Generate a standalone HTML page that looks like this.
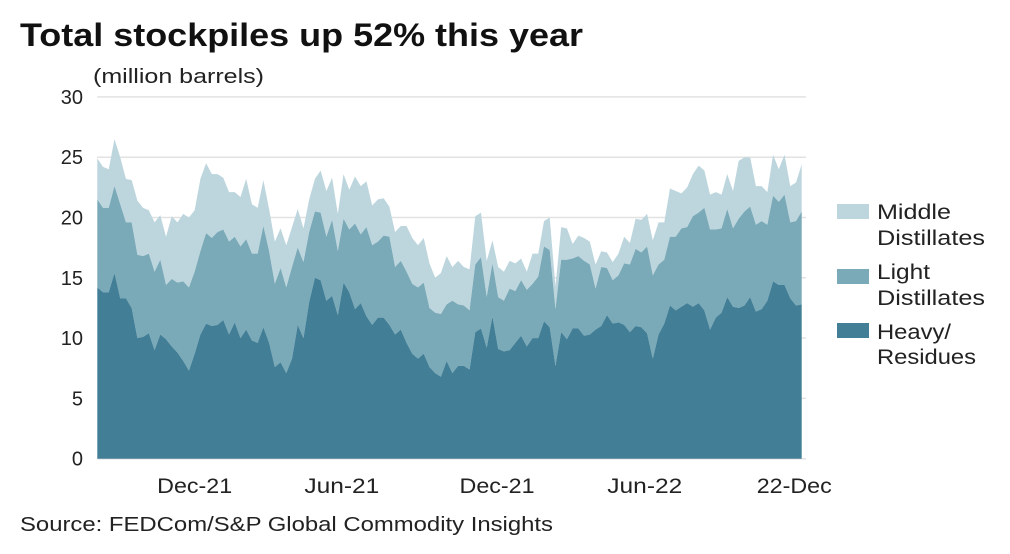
<!DOCTYPE html>
<html><head><meta charset="utf-8"><style>
body{margin:0;background:#fff;width:1010px;height:554px;overflow:hidden;font-family:"Liberation Sans",sans-serif;}
svg{display:block}
</style></head><body>
<svg id="chart" width="1010" height="554" xmlns="http://www.w3.org/2000/svg">
<text x="20" y="46" font-size="32" font-weight="bold" fill="#111" textLength="563" lengthAdjust="spacingAndGlyphs">Total stockpiles up 52% this year</text>
<text x="93" y="83" font-size="20" fill="#222" textLength="171" lengthAdjust="spacingAndGlyphs">(million barrels)</text>
<g id="grid"></g><g id="areas"></g><g id="axes"></g>
<g font-size="21" fill="#222">
<rect x="837" y="204" width="32" height="15" fill="#bdd6de"/>
<text x="877" y="219" textLength="74" lengthAdjust="spacingAndGlyphs">Middle</text><text x="877" y="245" textLength="108" lengthAdjust="spacingAndGlyphs">Distillates</text>
<rect x="837" y="269" width="32" height="15" fill="#7aa9b8"/>
<text x="877" y="279" textLength="53" lengthAdjust="spacingAndGlyphs">Light</text><text x="877" y="305" textLength="108" lengthAdjust="spacingAndGlyphs">Distillates</text>
<rect x="837" y="323" width="32" height="15" fill="#427f97"/>
<text x="877" y="339" textLength="74" lengthAdjust="spacingAndGlyphs">Heavy/</text><text x="877" y="364" textLength="99" lengthAdjust="spacingAndGlyphs">Residues</text>
</g>
<text x="20" y="531" font-size="20" fill="#222" textLength="533" lengthAdjust="spacingAndGlyphs">Source: FEDCom/S&amp;P Global Commodity Insights</text>
</svg>
<script>
const heavy=[14.2,13.8,13.8,15.4,13.3,13.3,12.5,10.0,10.1,10.4,9.0,10.3,9.9,9.3,8.8,8.1,7.3,8.7,10.3,11.2,11.0,11.1,11.5,10.3,11.3,10.0,10.7,9.8,9.6,10.9,9.6,7.6,8.0,7.1,8.3,11.1,10.0,13.0,15.0,14.8,13.1,13.5,11.9,14.6,13.8,12.4,12.9,11.8,11.1,11.7,11.7,11.1,10.3,10.7,9.6,8.7,8.3,8.7,7.6,7.1,6.8,
8.1,7.1,7.7,7.7,7.4,10.5,10.8,9.2,11.8,9.1,8.9,9.0,9.6,10.2,9.3,10.0,10.0,11.4,10.9,7.7,10.5,9.9,10.8,10.8,10.2,10.3,10.7,11.0,11.9,11.2,11.3,11.1,10.5,11.0,10.9,10.4,8.3,10.3,11.2,12.7,12.3,12.6,12.9,12.6,12.9,12.3,10.7,11.7,12.1,13.4,12.6,12.5,12.7,13.4,12.2,12.4,13.1,14.7,14.4,14.4,13.3,12.7,12.8];
const light=[7.3,7.0,7.0,7.2,7.8,6.3,7.1,6.9,6.7,6.6,6.5,6.2,4.5,5.6,5.8,6.6,6.9,6.8,6.9,7.5,7.3,7.7,7.5,7.7,7.1,7.6,7.5,7.2,7.4,8.4,7.6,6.9,7.8,7.1,7.6,6.4,6.3,5.8,5.5,5.6,5.3,6.3,5.3,5.3,5.2,7.1,5.7,7.4,6.6,6.3,6.8,7.3,5.6,5.7,5.9,5.8,5.9,5.9,4.9,5.0,5.2,
4.7,6.0,5.1,5.0,4.9,5.6,5.9,4.2,4.4,4.3,4.2,5.1,4.3,4.6,4.7,4.5,5.1,6.2,6.4,4.7,6.0,6.6,5.8,6.0,6.2,5.8,3.4,4.9,3.9,3.6,3.9,5.1,5.6,6.4,6.2,7.2,6.9,5.8,5.3,5.7,6.1,6.5,6.3,7.5,7.5,8.5,8.3,7.3,7.0,7.3,6.5,7.4,7.8,7.5,7.2,7.3,6.3,7.1,6.9,7.5,6.3,7.0,7.7];
const middle=[3.4,3.4,3.2,3.9,3.9,3.6,3.5,4.5,4.0,3.6,4.1,3.7,4.0,5.2,5.0,5.6,5.8,5.1,6.0,5.8,5.3,4.8,4.3,4.1,3.7,4.1,5.0,4.1,3.8,3.8,3.5,3.5,3.3,3.5,3.3,3.2,2.8,2.7,2.7,3.5,3.8,3.5,3.1,3.7,3.3,3.9,4.0,3.8,3.3,3.5,3.1,2.5,2.9,2.9,3.8,3.8,3.5,3.7,3.7,2.9,3.4,
4.0,2.8,3.6,3.2,3.4,4.0,3.7,3.0,1.9,2.5,2.4,2.3,2.3,1.8,1.5,2.5,1.9,2.1,2.7,1.9,2.7,2.6,1.2,1.7,1.9,1.9,2.0,1.3,1.3,1.5,1.8,2.2,1.8,2.5,2.7,2.7,2.9,3.5,3.1,4.0,3.8,2.9,3.3,3.5,3.9,3.1,2.9,3.1,2.8,2.9,3.1,4.8,4.5,4.1,3.2,2.9,2.7,3.4,2.7,3.3,3.0,3.2,3.9];
const yTicks=[0,5,10,15,20,25,30];
const xLabels=["Dec-21","Jun-21","Dec-21","Jun-22","22-Dec"];
const xLabelIdx=[17,42.7,69.8,95.6,121.7];

const NS="http://www.w3.org/2000/svg";
const X0=97.3,X1=801.7,Y0=458.7,YT=96.9,YMAX=30;
const n=heavy.length;
const xs=i=>X0+(X1-X0)*i/(n-1);
const ys=v=>Y0-(Y0-YT)*v/YMAX;
function mk(t,a,p){const e=document.createElementNS(NS,t);for(const k in a)e.setAttribute(k,a[k]);p.appendChild(e);return e;}
const grid=document.getElementById('grid'),areas=document.getElementById('areas'),axes=document.getElementById('axes');
yTicks.forEach(v=>{
  const l=mk('line',{x1:X0,x2:806,y1:ys(v),y2:ys(v),stroke:'#e2e2e2','stroke-width':1.5},grid);
  
  
  const t=mk('text',{x:83,y:ys(v)+7,'text-anchor':'end','font-size':20,fill:'#222'},axes);
  t.textContent=v;
  
  
});
const base=heavy.map(()=>0);
const c1=heavy.slice(),c2=heavy.map((h,i)=>h+light[i]),c3=c2.map((c,i)=>c+middle[i]);
function area(top,bot,color,name){
  let d='M'+xs(0)+','+ys(top[0]);
  for(let i=1;i<n;i++)d+='L'+xs(i)+','+ys(top[i]);
  for(let i=n-1;i>=0;i--)d+='L'+xs(i)+','+ys(bot[i]);
  const p=mk('path',{d:d+'Z',fill:color},areas);
  
  
}
area(c3,c2,'#bdd6de','area-middle-distillates');
area(c2,c1,'#7aa9b8','area-light-distillates');
area(c1,base,'#427f97','area-heavy-residues');
xLabels.forEach((s,k)=>{
  const t=mk('text',{x:xs(xLabelIdx[k]),y:493,'text-anchor':'middle','font-size':21,fill:'#222'},axes);
  t.textContent=s;
  t.setAttribute('textLength',s.length*12.5);
  t.setAttribute('lengthAdjust','spacingAndGlyphs');
  
  
});
</script>
</body></html>
